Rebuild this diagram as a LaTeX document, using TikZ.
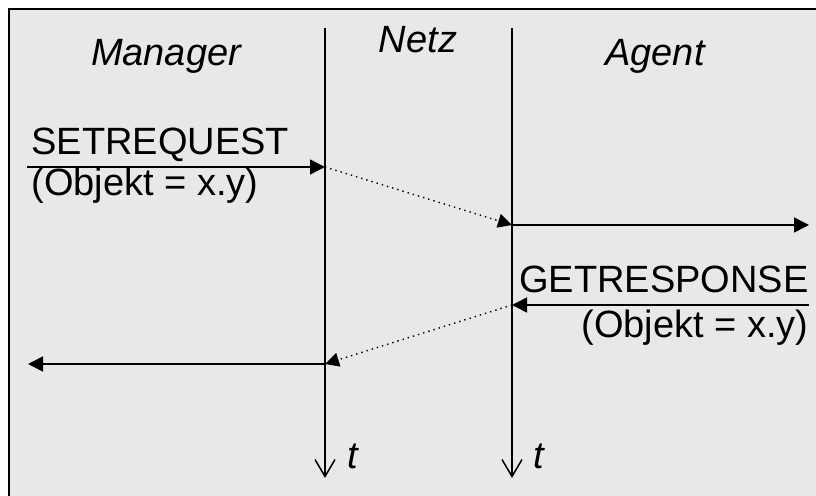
\documentclass[tikz,border=0pt]{standalone}
\usepackage{fontspec}
\setmainfont{Liberation Sans}
\usetikzlibrary{arrows.meta, positioning}

\begin{document}
\begin{tikzpicture}[
      x=0.5pt, y=-0.5pt,
      every node/.style={font=\fontsize{19}{22}\selectfont, inner sep=0pt},
      head/.style={font=\fontsize{19}{22}\selectfont\itshape},
      lifeline/.style={-{Straight Barb[length=8.5pt, width=10pt]}, line width=0.75pt},
      msg/.style={-{Triangle[length=7.5pt, width=7.5pt]}, line width=0.75pt},
      transfer/.style={-{Triangle[length=7pt, width=7pt]}, line width=0.7pt, dotted}
    ]
        \clip (0,0) rectangle (816,496);
        \fill[black!9] (9,9) rectangle (830,510);
        \draw[line width=0.8pt] (9,510) -- (9,9) -- (830,9);
        % headings
        \node[head, anchor=base] (manager) at (166,66) {Manager};
        \node[head, anchor=base] (netz) at (418,53) {Netz};
        \node[head, anchor=base] (agent) at (655,66) {Agent};
        % lifelines
        \coordinate (mtop) at (325,28);
        \coordinate (mbot) at (325,478);
        \coordinate (atop) at (512,28);
        \coordinate (abot) at (512,478);
        \draw[lifeline] (mtop) -- (mbot);
        \draw[lifeline] (atop) -- (abot);
        \node[head, anchor=base west] (tm) at (347,469) {t};
        \node[head, anchor=base west] (ta) at (533,469) {t};
        % messages
        \coordinate (reqin) at (27,167);
        \coordinate (reqm) at (325,167);
        \coordinate (reqa) at (512,225);
        \coordinate (reqout) at (809,225);
        \coordinate (resin) at (809,305);
        \coordinate (resa) at (512,305);
        \coordinate (resm) at (325,364);
        \coordinate (resout) at (28,364);
        \draw[msg] (reqin) -- (reqm);
        \draw[transfer] (reqm) -- (reqa);
        \draw[msg] (reqa) -- (reqout);
        \draw[msg] (resin) -- (resa);
        \draw[transfer] (resa) -- (resm);
        \draw[msg] (resm) -- (resout);
        \node[anchor=base west] (setreq) at (31,155) {SETREQUEST};
        \node[anchor=base west] (setobj) at (31,196) {(Objekt = x.y)};
        \node[anchor=base east] (getres) at (809,293) {GETRESPONSE};
        \node[anchor=base east] (getobj) at (809,338) {(Objekt = x.y)};
    \end{tikzpicture}
\end{document}
